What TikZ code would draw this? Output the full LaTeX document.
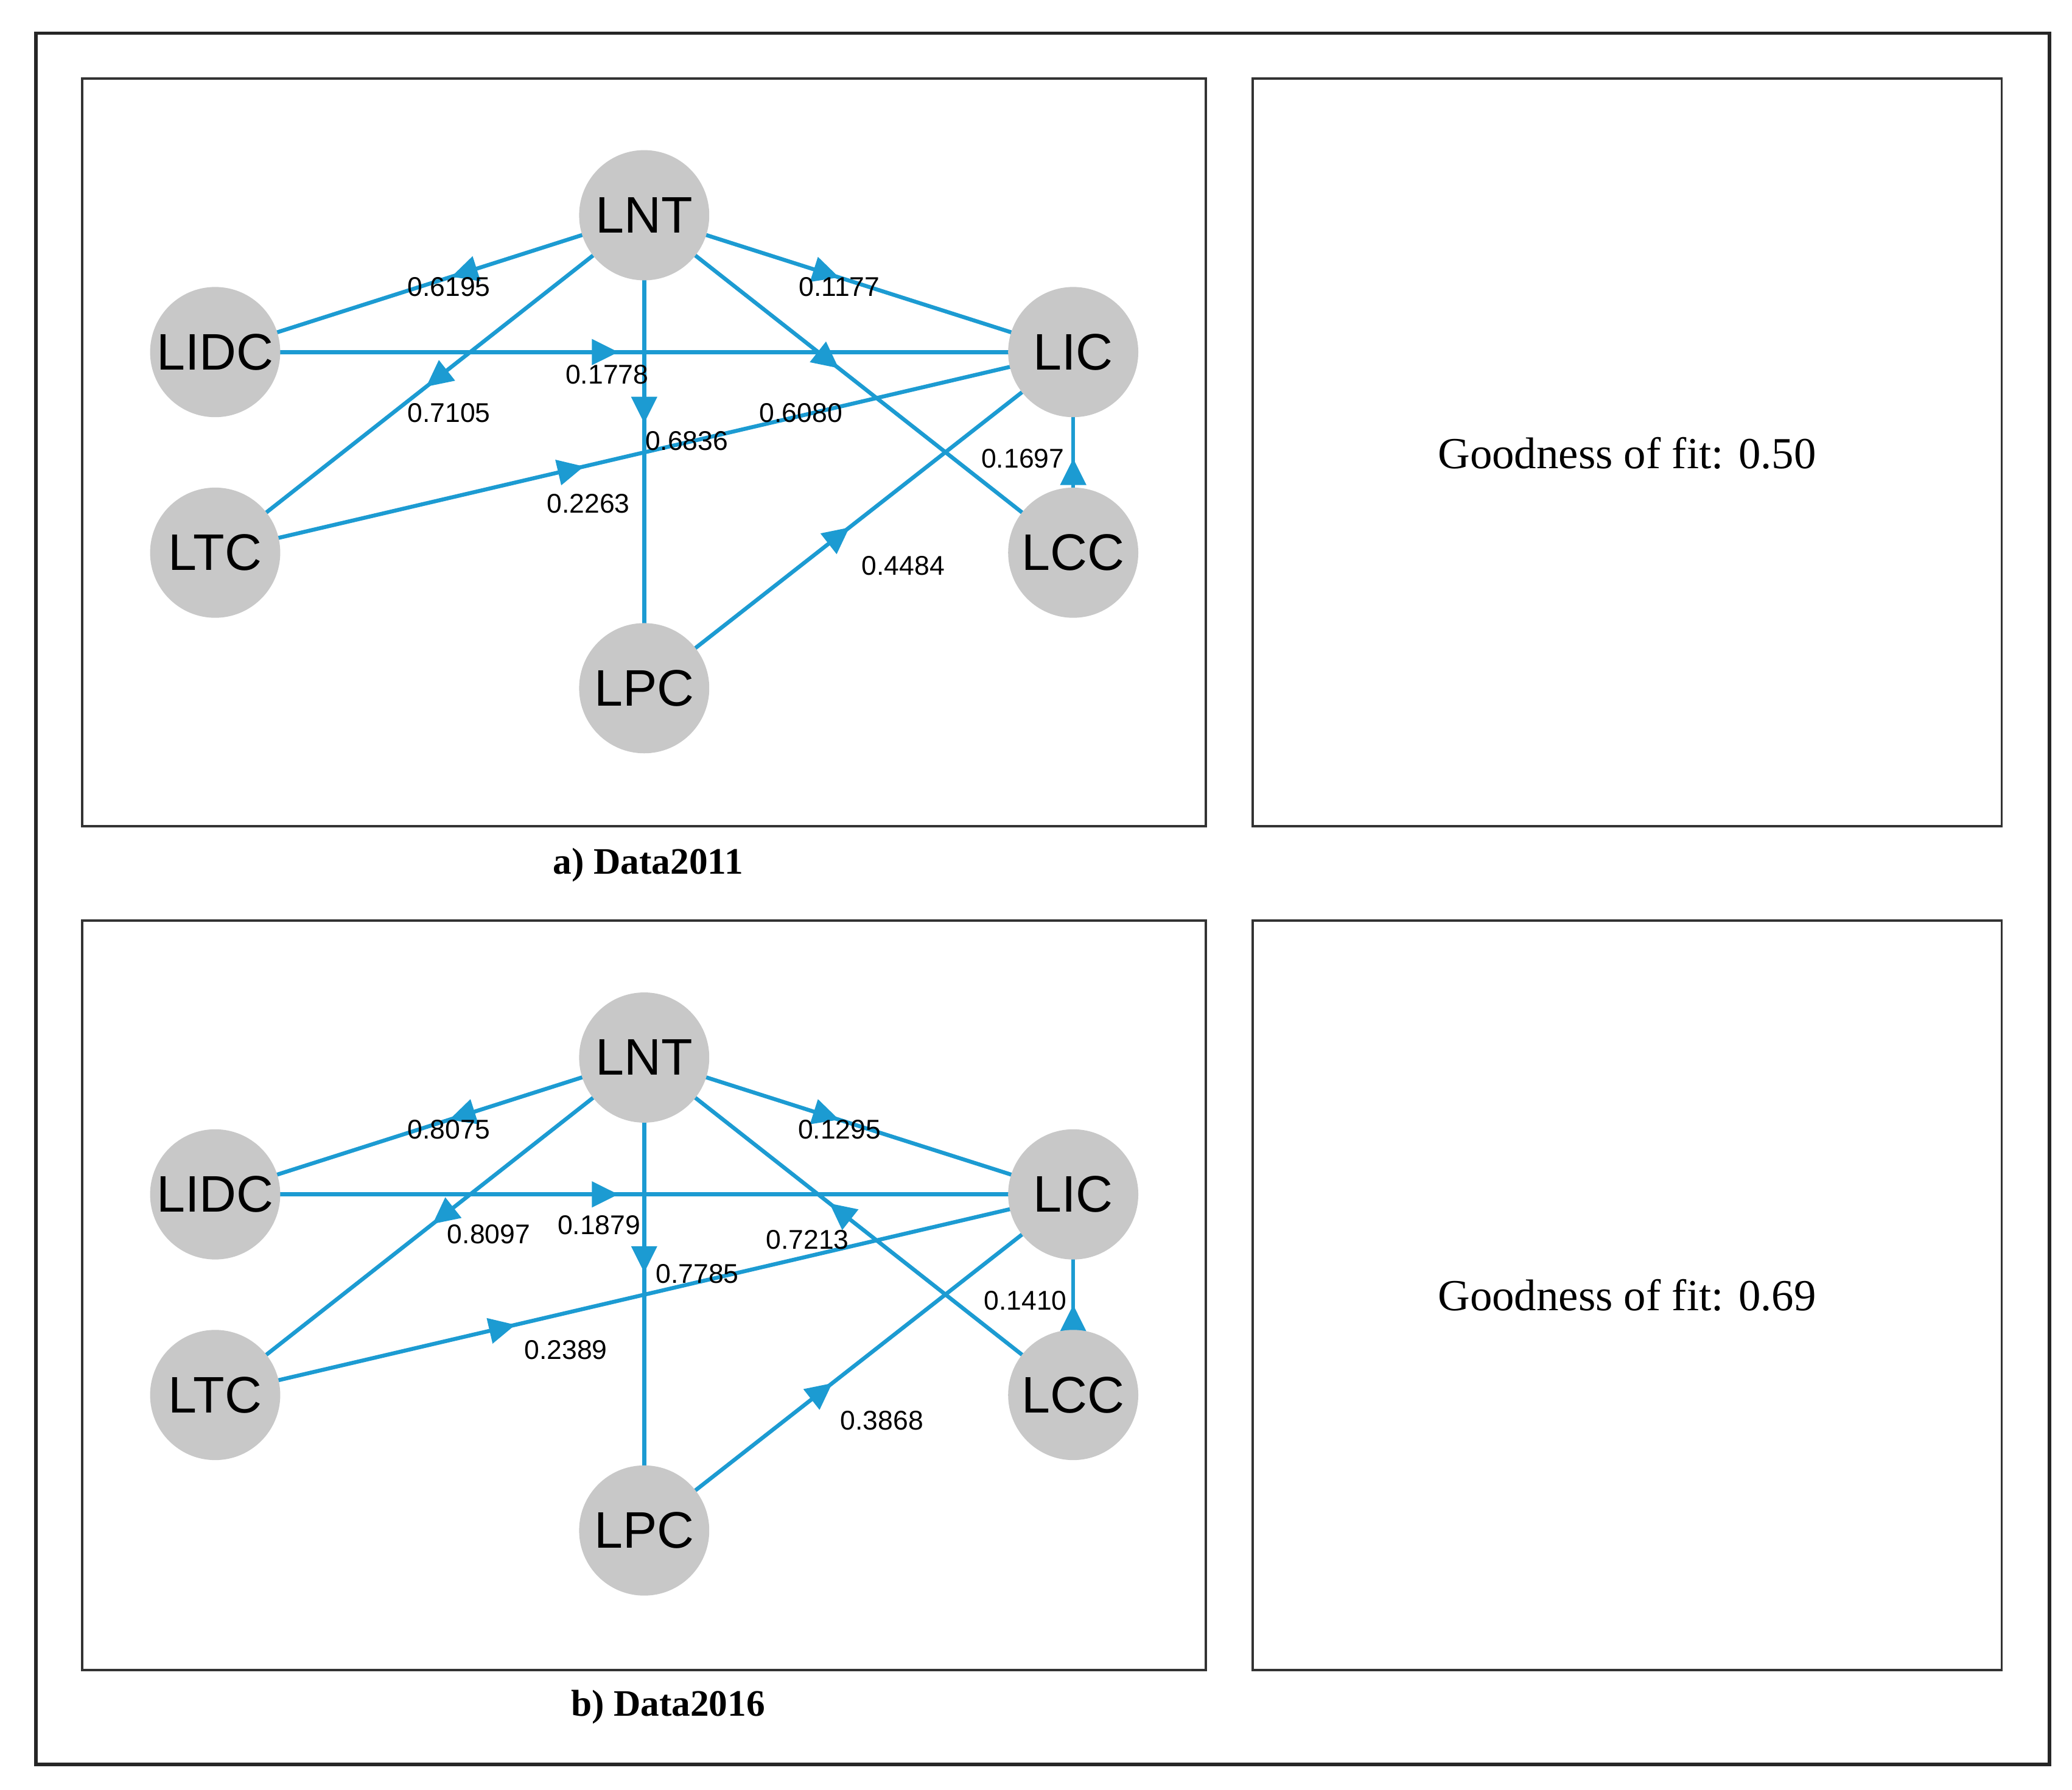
\documentclass[tikz,border=0pt]{standalone}
\usepackage{fontspec}
\setmainfont{Liberation Serif}
\newfontfamily\arialfont{Liberation Sans}
\usetikzlibrary{arrows.meta,decorations.markings,backgrounds}

\definecolor{edgeblue}{RGB}{28,155,210}
\definecolor{nodegray}{RGB}{200,200,200}

\tikzset{
  var/.style={circle,fill=nodegray,minimum size=0.98cm,inner sep=0pt,font=\arialfont\fontsize{11}{11}\selectfont},
  path/.style={edgeblue,line width=0.85pt,postaction={decorate},
    decoration={markings,mark=at position #1 with {\arrow{Triangle[length=0.2cm,width=0.19cm]}}}},
  coef/.style={font=\arialfont\fontsize{5.8}{6}\selectfont,inner sep=0pt},
  box/.style={draw=black!80,line width=0.5pt},
  caption/.style={font=\bfseries\fontsize{8}{9}\selectfont}
}

\begin{document}
\begin{tikzpicture}
    \useasboundingbox (0,0) rectangle (15.6,-13.47);
    \draw[black!85,line width=0.7pt] (0.27,-0.25) rectangle (15.43,-13.28);

    % Panel a
    \begin{scope}
        \draw[box] (0.62,-0.59) rectangle (9.08,-6.22);
        \draw[box] (9.43,-0.59) rectangle (15.07,-6.22);
        \node at (12.25,-3.41) {\fontsize{9.5}{10}\selectfont Goodness of fit: 0.50};
        \node[caption] at (4.88,-6.51) {a) Data2011};

        \node[var] (LNT) at (4.85,-1.62) {LNT};
        \node[var] (LIDC) at (1.62,-2.65) {LIDC};
        \node[var] (LIC) at (8.08,-2.65) {LIC};
        \node[var] (LTC) at (1.62,-4.16) {LTC};
        \node[var] (LCC) at (8.08,-4.16) {LCC};
        \node[var] (LPC) at (4.85,-5.18) {LPC};

        \begin{scope}[on background layer]
        \foreach \a/\b/\t in {LNT/LIDC/0.45, LNT/LIC/0.455, LIDC/LIC/0.47, LNT/LTC/0.51,
                              LNT/LPC/0.44, LNT/LCC/0.455, LTC/LIC/0.43, LPC/LIC/0.48, LCC/LIC/0.47}
            \draw[path=\t] (\a.center) -- (\b.center);
        \end{scope}

        \foreach \v/\x/\y in {0.6195/3.38/2.16, 0.1177/6.32/2.16, 0.1778/4.57/2.82, 0.7105/3.38/3.11,
                              0.6836/5.17/3.32, 0.6080/6.03/3.11, 0.2263/4.43/3.79, 0.4484/6.80/4.26, 0.1697/7.70/3.45}
            \node[coef] at (\x,-\y) {\v};
    \end{scope}

    % Panel b
    \begin{scope}[yshift=-6.34cm]
        \draw[box] (0.62,-0.59) rectangle (9.08,-6.23);
        \draw[box] (9.43,-0.59) rectangle (15.07,-6.23);
        \node at (12.25,-3.41) {\fontsize{9.5}{10}\selectfont Goodness of fit: 0.69};
        \node[caption] at (5.03,-6.51) {b) Data2016};

        \node[var] (LNT2) at (4.85,-1.62) {LNT};
        \node[var] (LIDC2) at (1.62,-2.65) {LIDC};
        \node[var] (LIC2) at (8.08,-2.65) {LIC};
        \node[var] (LTC2) at (1.62,-4.16) {LTC};
        \node[var] (LCC2) at (8.08,-4.16) {LCC};
        \node[var] (LPC2) at (4.85,-5.18) {LPC};

        \begin{scope}[on background layer]
        \foreach \a/\b/\t in {LNT2/LIDC2/0.455, LNT2/LIC2/0.455, LIDC2/LIC2/0.47, LNT2/LTC2/0.495,
                              LNT2/LPC2/0.455, LCC2/LNT2/0.57, LTC2/LIC2/0.35, LPC2/LIC2/0.44, LCC2/LIC2/0.45}
            \draw[path=\t] (\a.center) -- (\b.center);
        \end{scope}

        \foreach \v/\x/\y in {0.8075/3.38/2.16, 0.1295/6.32/2.16, 0.1879/4.51/2.88, 0.8097/3.68/2.95,
                              0.7785/5.25/3.25, 0.7213/6.08/2.99, 0.2389/4.26/3.82, 0.3868/6.64/4.35, 0.1410/7.72/3.45}
            \node[coef] at (\x,-\y) {\v};
    \end{scope}
\end{tikzpicture}
\end{document}
